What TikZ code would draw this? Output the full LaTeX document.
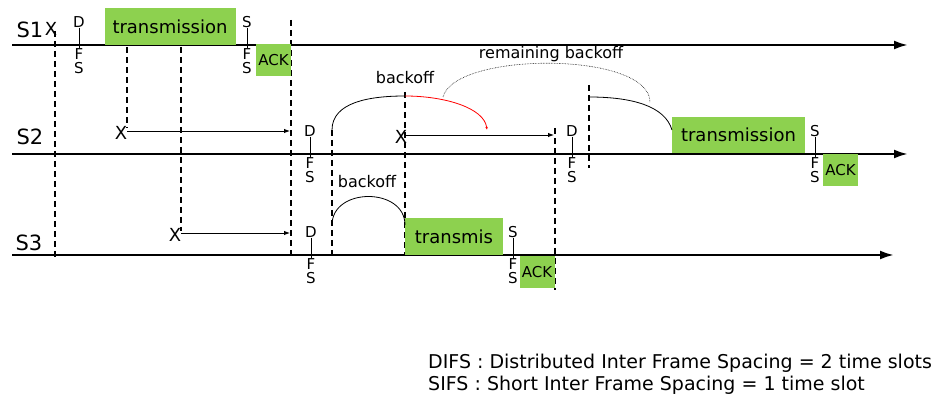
\documentclass[tikz,border=0pt]{standalone}
\usepackage{fontspec}
\setmainfont{DejaVu Sans}
\usepackage{xcolor}
\usetikzlibrary{arrows.meta}
\definecolor{framegreen}{HTML}{8DD14F}

\tikzset{
  timeline/.style={line width=2.4pt, -{Latex[length=14pt,width=9pt]}},
  station/.style={inner sep=0pt, font=\fontsize{21}{21}\selectfont},
  hit/.style={inner sep=0pt, font=\fontsize{18}{18}\selectfont},
  frame/.style={fill=framegreen, inner sep=0pt, font=\fontsize{18}{18}\selectfont},
  ackframe/.style={fill=framegreen, inner sep=0pt, minimum width=35pt,
    minimum height=32pt, font=\fontsize{15}{15}\selectfont},
  ifsletter/.style={inner sep=0pt, font=\fontsize{15}{15}\selectfont},
  thinslot/.style={line width=1.8pt, dash pattern=on 6pt off 4pt},
  boldslot/.style={line width=2.6pt, dash pattern=on 6pt off 4pt},
  defer/.style={line width=0.9pt, -{Latex[length=6pt,width=4.5pt]}},
  arcline/.style={line width=0.8pt},
  note/.style={inner sep=0pt, font=\fontsize{16}{16}\selectfont},
}

\begin{document}
\begin{tikzpicture}[x=1pt, y=-1pt]
  \useasboundingbox (0,0) rectangle (938,403);

  % stations and time axes
  \node[station] (s1) at (30,30) {S1};
  \node[station] (s2) at (30,137) {S2};
  \node[station] (s3) at (29,243) {S3};
  \draw[timeline] (12,45) coordinate (t1a) -- (908,45) coordinate (t1b);
  \draw[timeline] (12,154) coordinate (t2a) -- (908,154) coordinate (t2b);
  \draw[timeline] (12,255) coordinate (t3a) -- (894,255) coordinate (t3b);

  % slot boundaries
  \draw[thinslot] (55,31) -- (55,258);
  \draw[boldslot] (127,47) -- (127,128);
  \draw[boldslot] (181,47) -- (181,231);
  \draw[thinslot] (291,20) -- (291,258);
  \draw[thinslot] (332,130) -- (332,258);
  \draw[thinslot] (405,92) -- (405,255);
  \draw[boldslot] (555,128) -- (555,290);
  \draw[boldslot] (589,85) -- (589,168);

  % frames
  \node[frame, minimum width=131pt, minimum height=37pt] (tx1) at (170,26.5) {transmission};
  \node[ackframe] (ack1) at (273.5,60.5) {ACK};
  \node[frame, minimum width=133pt, minimum height=36pt] (tx2) at (738.5,135) {transmission};
  \node[ackframe] (ack2) at (840.5,170) {ACK};
  \node[frame, minimum width=98pt, minimum height=37pt] (tx3) at (454,236.5) {transmis};
  \node[ackframe] (ack3) at (537,272) {ACK};

  % DIFS and SIFS marks
  \foreach \x/\y/\top [count=\i] in {79/45/D, 310/154/D, 572/154/D, 311/255/D,
      247/45/S, 815/154/S, 513/255/S} {
    \node[ifsletter] (top\i) at (\x,\y-23) {\top};
    \node[ifsletter] (f\i) at (\x,\y+9) {F};
    \node[ifsletter] (s\i) at (\x,\y+23) {S};
    \draw[line width=0.9pt] (top\i.south) -- (f\i.north);
  }

  % collisions and deferrals
  \node[hit] (x1) at (51,29) {X};
  \node[hit] (x2) at (121,133) {X};
  \node[hit] (x3) at (175,235) {X};
  \node[hit] (x4) at (401,137) {X};
  \coordinate (d2a) at (127,131);
  \coordinate (d2b) at (290,131);
  \coordinate (d3a) at (181,233);
  \coordinate (d3b) at (290,233);
  \coordinate (d4a) at (405,135);
  \coordinate (d4b) at (554,135);
  \draw[defer] (d2a) -- (d2b);
  \draw[defer] (d3a) -- (d3b);
  \draw[defer] (d4a) -- (d4b);

  % backoff arcs
  \coordinate (b2a) at (332,130);
  \coordinate (b2m) at (405,96);
  \coordinate (b2b) at (487,130);
  \draw[arcline] (b2a) .. controls (332,102) and (370,96) .. (b2m);
  \draw[arcline, red, -{Latex[length=3pt,width=2.5pt]}] (b2m) .. controls (445,96) and (484,108) .. (b2b);
  \node[note] (bo2) at (405,78) {backoff};

  \coordinate (b3a) at (332,225);
  \coordinate (b3b) at (405,225);
  \draw[arcline] (b3a) .. controls (332,187) and (405,187) .. (b3b);
  \node[note] (bo3) at (367,182) {backoff};

  \coordinate (r2a) at (443,97);
  \coordinate (r2b) at (650,103);
  \draw[line width=0.6pt, densely dotted] (r2a) .. controls (455,51) and (652,51) .. (r2b);
  \node[note] (rem) at (551,54) {remaining backoff};

  \coordinate (c2a) at (589,97);
  \coordinate (c2b) at (672,130);
  \draw[arcline] (c2a) .. controls (632,97) and (665,106) .. (c2b);

  % legend
  \node[note, anchor=west, align=left, font=\fontsize{19}{22}\selectfont]
    (legend) at (428,374) {DIFS : Distributed Inter Frame Spacing = 2 time slots\\
    SIFS : Short Inter Frame Spacing = 1 time slot};
\end{tikzpicture}
\end{document}
